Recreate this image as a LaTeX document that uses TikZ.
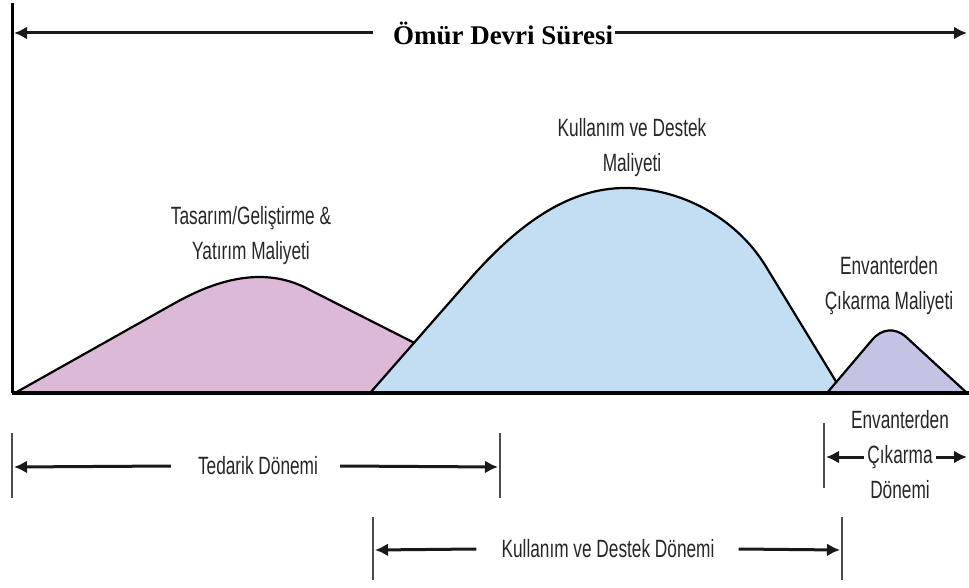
\documentclass[tikz,border=0pt]{standalone}
\usepackage{fontspec}
\setmainfont{Liberation Serif}
\newfontfamily\narrowsans[FakeStretch=0.69]{Liberation Sans}
\usetikzlibrary{arrows.meta}

\definecolor{designpink}{RGB}{220,185,215}
\definecolor{supportblue}{RGB}{195,222,243}
\definecolor{retirepurple}{RGB}{195,195,228}

\tikzset{
  axisline/.style={line width=3pt, black},
  dimarrow/.style={line width=3pt, -{Latex[length=13pt,width=13pt]}, black!90},
  tickbar/.style={line width=2.2pt, black!70},
  hump/.style={line width=2.2pt, black, line join=round},
  lbl/.style={font=\narrowsans\fontsize{25}{35}\selectfont, text=black!85, inner sep=0pt, align=center},
  titlelbl/.style={font=\bfseries\fontsize{27}{30}\selectfont, inner sep=0pt},
}

\begin{document}
\begin{tikzpicture}[x=1pt, y=-1pt]
\useasboundingbox (0,0) rectangle (969,588);

% cost humps (drawn back to front)
\draw[hump, fill=designpink]
  (15,393) -- (175,303) .. controls (225,275) and (270,268) .. (310,290)
  -- (460,366) -- (460,393) -- cycle;
\draw[hump, fill=supportblue]
  (370,393) -- (470,279) .. controls (520,222) and (570,188) .. (625,188)
  .. controls (680,188) and (735,217) .. (765,265)
  -- (843,393) -- cycle;
\draw[hump, fill=retirepurple]
  (827,393) -- (872,340) .. controls (882,328) and (895,328) .. (905,336)
  -- (967,393) -- cycle;

% axes
\coordinate (origin) at (12,393);
\coordinate (ytop) at (12,3);
\coordinate (xend) at (969,393);
\draw[axisline] (ytop) -- (origin);
\draw[line width=4pt] (origin) -- (xend);

% life cycle span
\node[titlelbl] (life) at (503,33) {Ömür Devri Süresi};
\coordinate (lifeL) at (14,33);
\coordinate (lifeR) at (967,33);
\draw[dimarrow] ([xshift=-20pt]life.west) -- (lifeL);
\draw[dimarrow] ([xshift=2pt]life.east) -- (lifeR);

% cost labels
\node[lbl] (costdesign) at (251,236) {Tasarım/Geliştirme \&\\Yatırım Maliyeti};
\node[lbl] (costsupport) at (632,148) {Kullanım ve Destek\\Maliyeti};
\node[lbl] (costretire) at (889,286) {Envanterden\\Çıkarma Maliyeti};

% acquisition phase
\coordinate (acqAt) at (12,433);
\coordinate (acqAb) at (12,498);
\coordinate (acqBt) at (500,433);
\coordinate (acqBb) at (500,498);
\draw[tickbar] (acqAt) -- (acqAb);
\draw[tickbar] (acqBt) -- (acqBb);
\node[lbl] (acq) at (258,466) {Tedarik Dönemi};
\coordinate (acqL) at (14,467);
\coordinate (acqR) at (498,467);
\draw[dimarrow] ([xshift=-27pt]acq.west) -- (acqL);
\draw[dimarrow] ([xshift=22pt]acq.east) -- (acqR);

% operation and support phase
\coordinate (opsAt) at (373,517);
\coordinate (opsAb) at (373,580);
\coordinate (opsBt) at (842,517);
\coordinate (opsBb) at (842,580);
\draw[tickbar] (opsAt) -- (opsAb);
\draw[tickbar] (opsBt) -- (opsBb);
\node[lbl] (ops) at (608,549) {Kullanım ve Destek Dönemi};
\coordinate (opsL) at (375,550);
\coordinate (opsR) at (840,550);
\draw[dimarrow] ([xshift=-25pt]ops.west) -- (opsL);
\draw[dimarrow] ([xshift=24pt]ops.east) -- (opsR);

% disposal phase
\coordinate (dspAt) at (824,423);
\coordinate (dspAb) at (824,488);
\draw[tickbar] (dspAt) -- (dspAb);
\node[lbl] (dsp) at (900,455) {Envanterden\\Çıkarma\\Dönemi};
\coordinate (dspL) at (826,457);
\coordinate (dspR) at (967,457);
\coordinate (dspLs) at (864,457);
\coordinate (dspRs) at (936,457);
\draw[dimarrow] (dspLs) -- (dspL);
\draw[dimarrow] (dspRs) -- (dspR);
\end{tikzpicture}
\end{document}
